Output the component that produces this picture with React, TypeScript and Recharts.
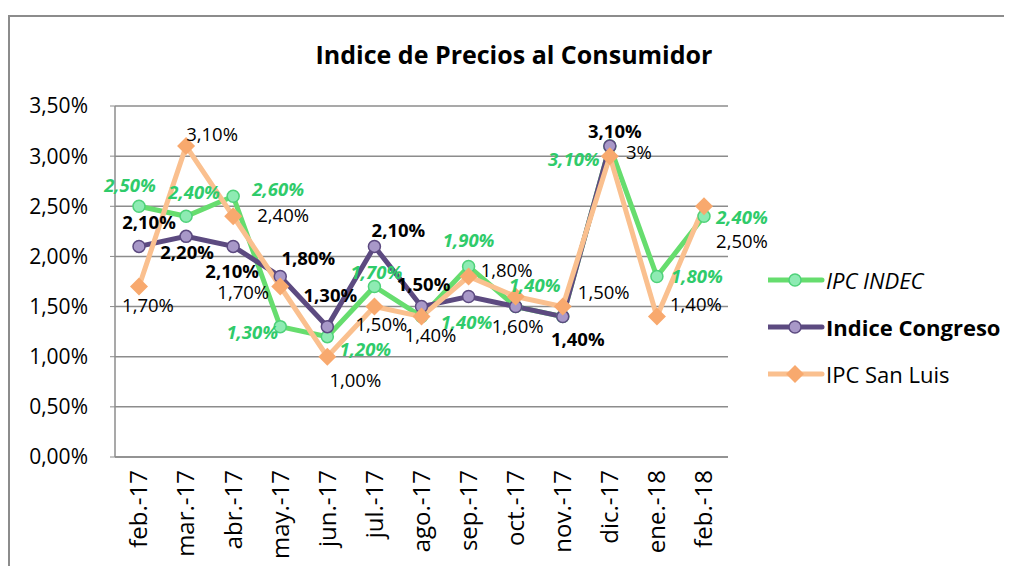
import React from 'react';
import { LineChart, Line, XAxis, YAxis, CartesianGrid, Legend, LabelList } from 'recharts';

const months = ['feb.-17', 'mar.-17', 'abr.-17', 'may.-17', 'jun.-17', 'jul.-17', 'ago.-17', 'sep.-17', 'oct.-17', 'nov.-17', 'dic.-17', 'ene.-18', 'feb.-18'];
const ipcIndec = [2.5, 2.4, 2.6, 1.3, 1.2, 1.7, 1.4, 1.9, 1.5, 1.4, 3.1, 1.8, 2.4];
const indiceCongreso = [2.1, 2.2, 2.1, 1.8, 1.3, 2.1, 1.5, 1.6, 1.5, 1.4, 3.1, null, null];
const ipcSanLuis = [1.7, 3.1, 2.4, 1.7, 1.0, 1.5, 1.4, 1.8, 1.6, 1.5, 3.0, 1.4, 2.5];
const yTicks = [0, 0.5, 1, 1.5, 2, 2.5, 3, 3.5];
// San Luis points whose label is shown without decimals (as in the source)
const sanLuisShortLabels = [10];

// label placement offsets (dx, dy) relative to each point; null = label hidden
const indecLabelPos: (number[] | null)[] = [[-9, -21], [8, -24], [45, -7], [-28, 6], [38, 13], [2, -14], [45, 6], [0, -26], null, [-28, -31], [-36, 13], [40, 0], [38, 1]];
const congresoLabelPos: (number[] | null)[] = [[10, -24], [1, 16], [-1, 25], [28, -18], [3, -31], [24, -16], [2, -22], null, null, [15, 23], [5, -15], null, null];
const sanLuisLabelPos: (number[] | null)[] = [[9, 19], [26, -12], [50, -1], [-37, 6], [28, 24], [7, 18], [9, 19], [38, -6], [2, 30], [41, -14], [29, -4], [39, -12], [38, 35]];

const data = months.map((m, i) => ({
  mes: m,
  indec: ipcIndec[i],
  congreso: indiceCongreso[i],
  sanluis: ipcSanLuis[i],
}));

const FONT = '"Open Sans", sans-serif';
const GREEN = '#66DD6E';
const GREEN_FILL = '#8EEBB3';
const GREEN_TEXT = '#2FCB6A';
const PURPLE = '#5C4A80';
const PURPLE_FILL = '#A898C8';
const ORANGE = '#FAC08F';
const ORANGE_FILL = '#F8A96E';
const GRID = '#8C8C8C';

const fmt = (v: number) => v.toFixed(2).replace('.', ',') + '%';
const fmtShort = (v: number) => `${Math.round(v)}%`;

const makeLabel = (pos: (number[] | null)[], color: string, weight: string, style: string, shortIdx: number[] = []) => (props: any) => {
  const { x, y, value, index } = props;
  const p = pos[index];
  if (p == null || value == null || x == null || y == null) return null;
  return (
    <text
      key={`lbl-${index}`}
      x={x + p[0]}
      y={y + p[1]}
      dy="0.35em"
      textAnchor="middle"
      fill={color}
      fontFamily={FONT}
      fontSize={18.5}
      fontWeight={weight}
      fontStyle={style}
    >
      {shortIdx.includes(index) ? fmtShort(value) : fmt(value)}
    </text>
  );
};

const Diamond = (props: any) => {
  const { cx, cy, index } = props;
  if (cx == null || cy == null) return <g key={`d-${index}`} />;
  const r = 9;
  return (
    <polygon
      key={`d-${index}`}
      points={`${cx},${cy - r} ${cx + r},${cy} ${cx},${cy + r} ${cx - r},${cy}`}
      fill={ORANGE_FILL}
    />
  );
};

const XTick = (props: any) => {
  const { x, y, payload } = props;
  const ty = y + 5;
  return (
    <text
      x={x}
      y={ty}
      transform={`rotate(-90, ${x}, ${ty})`}
      dy="0.35em"
      textAnchor="end"
      fill="#000"
      fontFamily={FONT}
      fontSize={24}
    >
      {payload.value}
    </text>
  );
};

const legendItems = [
  { name: 'IPC INDEC', line: GREEN, fill: GREEN_FILL, stroke: '#4FD27A', shape: 'circle', weight: 'normal', style: 'italic' },
  { name: 'Indice Congreso', line: PURPLE, fill: PURPLE_FILL, stroke: PURPLE, shape: 'circle', weight: 'bold', style: 'normal' },
  { name: 'IPC San Luis', line: ORANGE, fill: ORANGE_FILL, stroke: 'none', shape: 'diamond', weight: 'normal', style: 'normal' },
];

const renderLegend = () => (
  <div style={{ fontFamily: FONT }}>
    {legendItems.map((it) => (
      <div key={it.name} style={{ display: 'flex', alignItems: 'center', height: 47 }}>
        <svg width={58} height={20} style={{ display: 'block' }}>
          <line x1={0} y1={10} x2={54} y2={10} stroke={it.line} strokeWidth={5} strokeLinecap="round" />
          {it.shape === 'circle' ? (
            <circle cx={27} cy={10} r={6} fill={it.fill} stroke={it.stroke} strokeWidth={1.5} />
          ) : (
            <polygon points="27,1 36,10 27,19 18,10" fill={it.fill} />
          )}
        </svg>
        <span style={{ fontSize: 22, fontWeight: it.weight as any, fontStyle: it.style as any, color: '#000', whiteSpace: 'nowrap' }}>
          {it.name}
        </span>
      </div>
    ))}
  </div>
);

export default function App() {
  return (
    <div style={{ position: 'relative', width: 1004, height: 558, overflow: 'hidden', background: '#fff' }}>
      <div
        style={{
          position: 'absolute',
          left: 0,
          top: 7,
          width: 1100,
          height: 700,
          borderTop: '2px solid #8C8C8C',
          borderLeft: '2px solid #8C8C8C',
        }}
      />
      <div
        style={{
          position: 'absolute',
          left: 0,
          width: 1012,
          top: 29,
          textAlign: 'center',
          fontFamily: FONT,
          fontWeight: 'bold',
          fontSize: 25,
          color: '#000',
        }}
      >
        Indice de Precios al Consumidor
      </div>
      <div style={{ position: 'absolute', left: 0, top: 0 }}>
        <LineChart width={1004} height={558} data={data} margin={{ top: 98, right: 284, bottom: 0, left: 27 }}>
          <CartesianGrid vertical={false} stroke={GRID} strokeWidth={1.5} />
          <XAxis
            dataKey="mes"
            padding={{ left: 24, right: 24 }}
            height={109}
            tick={<XTick />}
            tickLine={false}
            axisLine={{ stroke: GRID, strokeWidth: 1.5 }}
            interval={0}
          />
          <YAxis
            width={80}
            domain={[0, 3.5]}
            ticks={yTicks}
            tickFormatter={fmt}
            tick={{ fill: '#000', fontFamily: FONT, fontSize: 21 }}
            tickSize={5}
            tickMargin={22}
            tickLine={{ stroke: GRID }}
            axisLine={{ stroke: GRID, strokeWidth: 1.5 }}
            interval={0}
          />
          <Legend
            layout="vertical"
            align="center"
            verticalAlign="middle"
            content={renderLegend}
            wrapperStyle={{ position: 'absolute', left: 760, top: 248, width: 244 }}
          />
          <Line
            dataKey="indec"
            name="IPC INDEC"
            stroke={GREEN}
            strokeWidth={5}
            dot={{ r: 6, fill: GREEN_FILL, stroke: '#4FD27A', strokeWidth: 1.5 }}
            isAnimationActive={false}
          >
            <LabelList dataKey="indec" content={makeLabel(indecLabelPos, GREEN_TEXT, 'bold', 'italic')} />
          </Line>
          <Line
            dataKey="congreso"
            name="Indice Congreso"
            stroke={PURPLE}
            strokeWidth={5}
            dot={{ r: 6, fill: PURPLE_FILL, stroke: PURPLE, strokeWidth: 1.5 }}
            isAnimationActive={false}
          >
            <LabelList dataKey="congreso" content={makeLabel(congresoLabelPos, '#000', 'bold', 'normal')} />
          </Line>
          <Line
            dataKey="sanluis"
            name="IPC San Luis"
            stroke={ORANGE}
            strokeWidth={5}
            dot={<Diamond />}
            isAnimationActive={false}
          >
            <LabelList dataKey="sanluis" content={makeLabel(sanLuisLabelPos, '#000', 'normal', 'normal', sanLuisShortLabels)} />
          </Line>
        </LineChart>
      </div>
    </div>
  );
}
